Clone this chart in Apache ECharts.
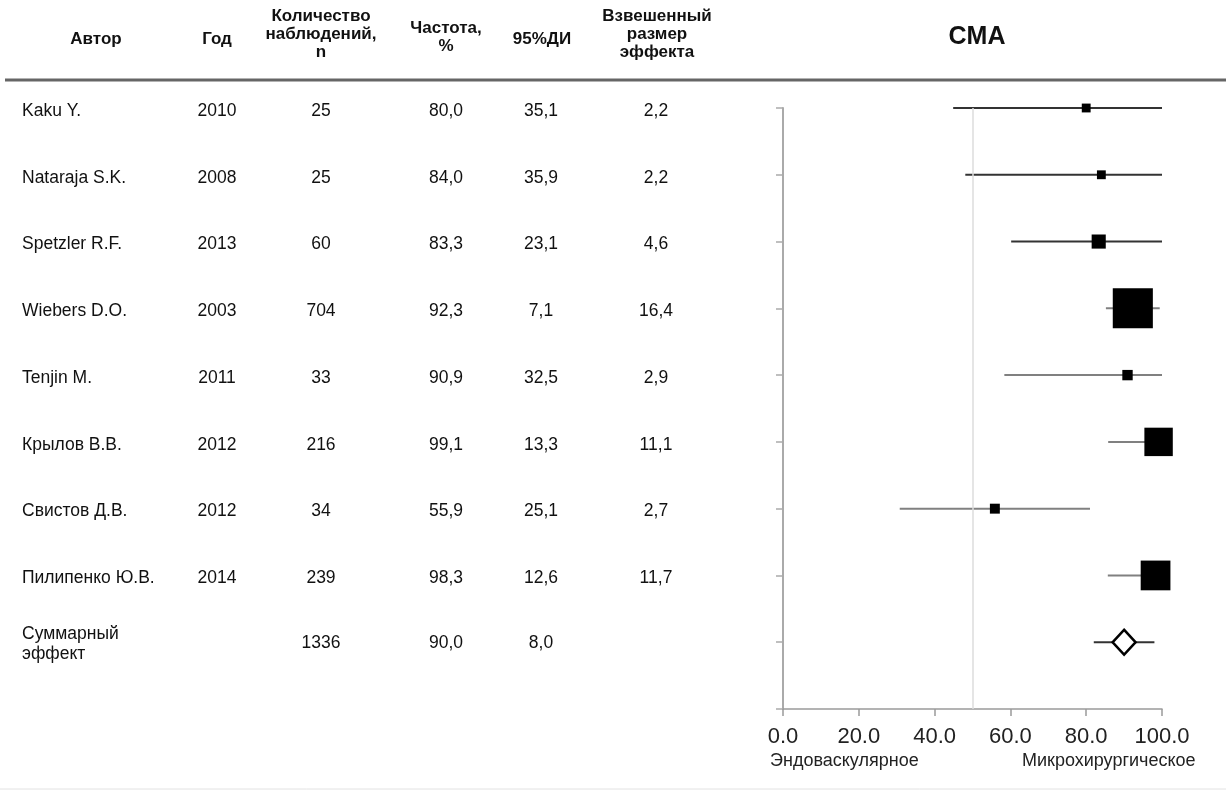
<!DOCTYPE html>
<html>
<head>
<meta charset="utf-8">
<script src="https://cdn.jsdelivr.net/npm/echarts@6/dist/echarts.min.js"></script>
<style>
  html, body { margin: 0; padding: 0; background: #fff; }
  #chart { width: 1226px; height: 791px; }
</style>
</head>
<body>
<div id="chart"></div>
<script>
// данные исследований (сверху вниз)
const authors = ['Kaku Y.', 'Nataraja S.K.', 'Spetzler R.F.', 'Wiebers D.O.', 'Tenjin M.', 'Крылов В.В.', 'Свистов Д.В.', 'Пилипенко Ю.В.'];
const years = [2010, 2008, 2013, 2003, 2011, 2012, 2012, 2014];
const nObs = [25, 25, 60, 704, 33, 216, 34, 239];
const freq = [80.0, 84.0, 83.3, 92.3, 90.9, 99.1, 55.9, 98.3];
const ciText = ['35,1', '35,9', '23,1', '7,1', '32,5', '13,3', '25,1', '12,6'];
const weights = [2.2, 2.2, 4.6, 16.4, 2.9, 11.1, 2.7, 11.7];
const ciLow = [44.9, 48.1, 60.2, 85.2, 58.4, 85.8, 30.8, 85.7];
const ciHigh = [100, 100, 100, 99.4, 100, 100, 81.0, 100];

// суммарный эффект
const sumN = 1336;
const sumFreq = 90.0;
const sumCiText = '8,0';
const sumLow = 82.0;
const sumHigh = 98.0;

const xTicks = [0, 20, 40, 60, 80, 100];
const refValue = 50;

const FONT = 'Liberation Sans, Arial, sans-serif';
const rowCount = authors.length + 1;
const rowY = i => rowCount - i; // первая строка наверху

var dom = document.getElementById('chart');
var myChart = echarts.init(dom, null, { renderer: 'canvas' });

const ciData = authors.map((a, i) => [ciLow[i], ciHigh[i], rowY(i)]);
ciData.push([sumLow, sumHigh, rowY(authors.length)]);

const option = {
    animation: false,
    textStyle: { fontFamily: FONT },
    grid: { left: 783, right: 64, top: 108, bottom: 82 },
    xAxis: {
        type: 'value',
        min: xTicks[0],
        max: xTicks[xTicks.length - 1],
        interval: 20,
        axisLine: { show: true, lineStyle: { color: '#9a9a9a', width: 1.5 } },
        axisTick: { show: true, length: 7, lineStyle: { color: '#9a9a9a', width: 1.5 } },
        axisLabel: {
            margin: 17,
            fontSize: 22,
            color: '#222',
            fontFamily: FONT,
            formatter: v => v.toFixed(1)
        },
        splitLine: { show: false }
    },
    yAxis: {
        type: 'value',
        min: 0,
        max: rowCount,
        interval: 1,
        axisLine: { show: true, lineStyle: { color: '#aaa', width: 2 } },
        axisTick: { show: true, length: 7, lineStyle: { color: '#aaa', width: 1.5 } },
        axisLabel: { show: false },
        splitLine: { show: false }
    },
    series: [
        {
            type: 'custom',
            name: 'ДИ',
            z: 2,
            data: ciData,
            renderItem: function (params, api) {
                const p1 = api.coord([api.value(0), api.value(2)]);
                const p2 = api.coord([api.value(1), api.value(2)]);
                const i = params.dataIndex;
                const dark = i < 3 || i === authors.length;
                return {
                    type: 'line',
                    shape: { x1: p1[0], y1: p1[1], x2: p2[0], y2: p2[1] },
                    style: { stroke: dark ? '#333' : '#808080', lineWidth: 2 }
                };
            },
            markLine: {
                silent: true,
                symbol: 'none',
                label: { show: false },
                lineStyle: { color: '#dcdcdc', width: 1.5, type: 'solid', opacity: 1 },
                data: [{ xAxis: refValue }]
            }
        },
        {
            type: 'scatter',
            name: 'Частота',
            z: 3,
            symbol: 'rect',
            itemStyle: { color: '#000', opacity: 1 },
            data: freq.map((f, i) => ({
                value: [f, rowY(i)],
                symbolSize: 4 + 2.2 * weights[i]
            }))
        },
        {
            type: 'scatter',
            name: 'Суммарный эффект',
            z: 4,
            symbol: 'diamond',
            symbolSize: [23, 25],
            itemStyle: { color: '#fff', borderColor: '#000', borderWidth: 2.5, opacity: 1 },
            data: [[sumFreq, rowY(authors.length)]]
        }
    ]
};

myChart.setOption(option);

// таблица слева
function buildTable() {
    const els = [];
    const txt = (x, y, s, opts) => els.push({
        type: 'text', x: x, y: y, silent: true,
        style: Object.assign({
            text: s, fill: '#111', font: '17.5px ' + FONT,
            textAlign: 'center', textVerticalAlign: 'middle'
        }, opts || {})
    });
    const bold = { font: 'bold 17px ' + FONT, fill: '#111' };

    // шапка
    txt(96, 39, 'Автор', bold);
    txt(217, 39, 'Год', bold);
    txt(321, 16, 'Количество', bold);
    txt(321, 34, 'наблюдений,', bold);
    txt(321, 52, 'n', bold);
    txt(446, 28, 'Частота,', bold);
    txt(446, 46, '%', bold);
    txt(542, 39, '95%ДИ', bold);
    txt(657, 16, 'Взвешенный', bold);
    txt(657, 34, 'размер', bold);
    txt(657, 52, 'эффекта', bold);
    txt(977, 37, 'CMA', { font: 'bold 25px ' + FONT, fill: '#111' });

    els.push({ type: 'line', silent: true, shape: { x1: 5, y1: 80, x2: 1226, y2: 80 },
        style: { stroke: '#666', lineWidth: 3 } });
    els.push({ type: 'line', silent: true, shape: { x1: 0, y1: 789, x2: 1226, y2: 789 },
        style: { stroke: '#e2e2e2', lineWidth: 1 } });

    authors.forEach((a, i) => {
        const y = myChart.convertToPixel({ yAxisIndex: 0 }, rowY(i)) + 3;
        txt(22, y, a, { textAlign: 'left' });
        txt(217, y, String(years[i]));
        txt(321, y, String(nObs[i]));
        txt(446, y, freq[i].toFixed(1).replace('.', ','));
        txt(541, y, ciText[i]);
        txt(656, y, weights[i].toFixed(1).replace('.', ','));
    });

    const ys = myChart.convertToPixel({ yAxisIndex: 0 }, rowY(authors.length));
    txt(22, ys - 8, 'Суммарный', { textAlign: 'left' });
    txt(22, ys + 12, 'эффект', { textAlign: 'left' });
    txt(321, ys + 1, String(sumN));
    txt(446, ys + 1, sumFreq.toFixed(1).replace('.', ','));
    txt(541, ys + 1, sumCiText);

    // подписи под осью
    txt(770, 761, 'Эндоваскулярное', { textAlign: 'left', font: '18px ' + FONT, fill: '#222' });
    txt(1022, 761, 'Микрохирургическое', { textAlign: 'left', font: '18px ' + FONT, fill: '#222' });

    myChart.setOption({ graphic: { elements: els } });
}
buildTable();

window.addEventListener('resize', myChart.resize);
</script>
</body>
</html>
